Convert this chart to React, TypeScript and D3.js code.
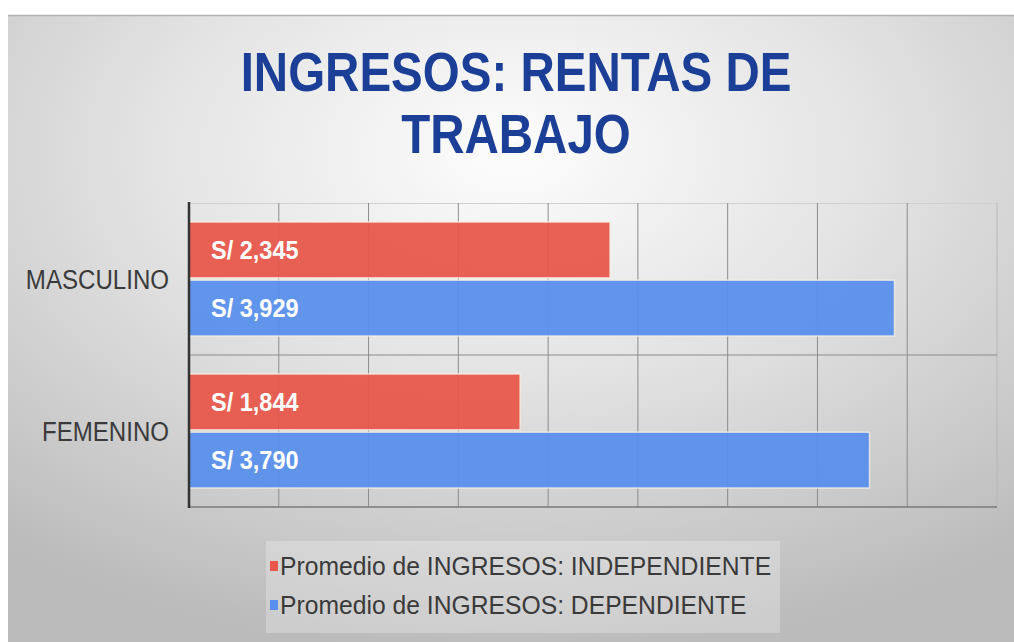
import React from 'react'
import * as d3 from 'd3'

const categories = ['MASCULINO', 'FEMENINO']
const seriesNames = ['Promedio de INGRESOS: INDEPENDIENTE', 'Promedio de INGRESOS: DEPENDIENTE']
const independiente = [2345, 1844]
const dependiente = [3929, 3790]
const xTicks = [0, 500, 1000, 1500, 2000, 2500, 3000, 3500, 4000, 4500]
const seriesColors = ['#e8574a', '#588fec']
const titleLines = ['INGRESOS: RENTAS DE', 'TRABAJO']

const W = 1014
const H = 642
const font = '"Liberation Sans", Arial, sans-serif'

const App = () => {
	const x = d3.scaleLinear().domain([0, 4500]).range([189, 997])
	const y = d3.scaleBand().domain(categories).range([203, 507]).padding(0)
	const inner = d3.scaleBand().domain(seriesNames).range([19, 133]).paddingInner(0.04)
	const series = [independiente, dependiente]
	const fmt = d3.format(',')

	return (
		<svg width={W} height={H} style={{ position: 'absolute', left: 0, top: 0 }}>
			<defs>
				<radialGradient id='bg' cx='50%' cy='22%' r='80%'>
					<stop offset='0%' stopColor='#fdfdfd' />
					<stop offset='45%' stopColor='#e3e3e3' />
					<stop offset='100%' stopColor='#bbbbbb' />
				</radialGradient>
			</defs>
			<rect x={0} y={0} width={W} height={H} fill='#fff' />
			<rect x={8} y={15} width={W - 8} height={H - 15} fill='url(#bg)' />
			<line x1={8} x2={W} y1={15.5} y2={15.5} stroke='#b4b4b4' strokeWidth={1.5} />

			{/* title */}
			{titleLines.map((t, i) => (
				<text
					key={t}
					transform={`translate(516, ${91 + i * 62}) scale(0.88, 1.02)`}
					textAnchor='middle'
					fontFamily={font}
					fontWeight='bold'
					fontSize={54}
					fill='#1b3f96'
				>
					{t}
				</text>
			))}

			{/* plot frame and grid */}
			<line x1={189} x2={997} y1={203.5} y2={203.5} stroke='#d0d0d0' strokeWidth={1} />
			{xTicks.slice(1).map(t => (
				<line key={t} x1={x(t)} x2={x(t)} y1={203} y2={507} stroke={t === 4500 ? '#b8b8b8' : '#8c8c8c'} strokeWidth={1} />
			))}
			<line x1={189} x2={997} y1={y('FEMENINO')} y2={y('FEMENINO')} stroke='#8c8c8c' strokeWidth={1} />
			<line x1={189} x2={997} y1={507} y2={507} stroke='#7a7a7a' strokeWidth={1.5} />

			{/* bars */}
			{categories.map((c, ci) =>
				seriesNames.map((s, si) => {
					const v = series[si][ci]
					const by = y(c) + inner(s)
					return (
						<g key={c + s}>
							<rect
								x={x(0)}
								y={by}
								width={x(v) - x(0)}
								height={inner.bandwidth()}
								fill={seriesColors[si]}
								fillOpacity={0.94}
								stroke='#f6efe6'
								strokeOpacity={0.8}
								strokeWidth={1.5}
							/>
							<text
								transform={`translate(${x(0) + 22}, ${by + inner.bandwidth() / 2}) scale(0.98, 1.08)`}
								dy='0.36em'
								fontFamily={font}
								fontWeight='bold'
								fontSize={24}
								fill='#fff'
							>
								{'S/ ' + fmt(v)}
							</text>
						</g>
					)
				})
			)}
			<line x1={189} x2={189} y1={202} y2={508} stroke='#333' strokeWidth={2.5} />

			{/* category labels */}
			{categories.map(c => (
				<text
					key={c}
					transform={`translate(169, ${y(c) + y.bandwidth() / 2}) scale(0.86, 1)`}
					dy='0.36em'
					textAnchor='end'
					fontFamily={font}
					fontSize={28}
					fill='#3a3a3a'
				>
					{c}
				</text>
			))}

			{/* legend */}
			<rect x={266} y={541} width={514} height={92} fill='#ffffff' fillOpacity={0.25} />
			{seriesNames.map((s, i) => (
				<g key={s} transform={`translate(270, ${566 + i * 39})`}>
					<rect x={0} y={-5} width={8} height={10} fill={seriesColors[i]} />
					<text
						transform='translate(10, 0) scale(0.95, 1)'
						dy='0.36em'
						fontFamily={font}
						fontSize={26}
						fill='#3a3a3a'
					>
						{s}
					</text>
				</g>
			))}
		</svg>
	)
}

export default App
